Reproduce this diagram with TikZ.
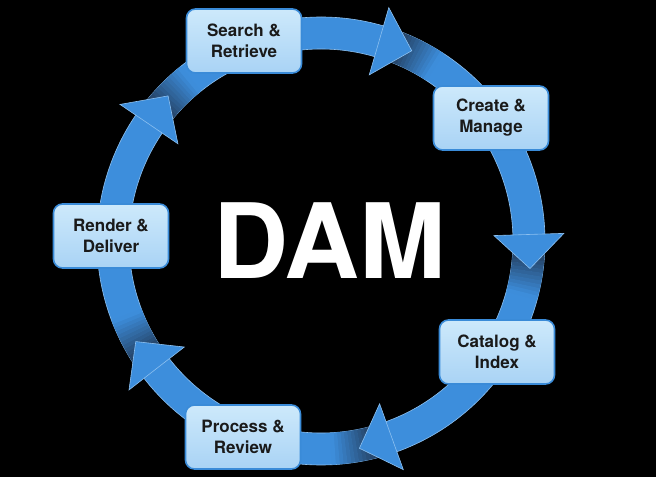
\documentclass[tikz,border=0pt]{standalone}
\usepackage{fontspec}
\setmainfont{TeX Gyre Heros}
\usepackage{xcolor}
\usetikzlibrary{calc}
\definecolor{dblue}{HTML}{3D8EDC}
\definecolor{dedge}{HTML}{8CC0F0}
\definecolor{ddark}{HTML}{1C2638}
\definecolor{dtop}{HTML}{CDE9FB}
\definecolor{dbot}{HTML}{A9D3F5}
\definecolor{dline}{HTML}{3A8BD8}
\definecolor{dtext}{HTML}{1A1A1A}
\tikzset{
  stagebox/.style={draw=dline, line width=1.6pt, top color=dtop, bottom color=dbot,
                   rounded corners=9pt, minimum width=115pt, minimum height=64pt,
                   align=center, text=dtext, inner sep=4pt,
                   font=\fontsize{17}{21}\selectfont\bfseries},
  bigtitle/.style={text=white, font=\fontsize{104}{104}\selectfont\bfseries},
  ringfill/.style={fill=dblue, draw=dedge, line width=0.6pt},
}
% ring piece between two angles (clockwise)
\newcommand{\rout}{224pt}
\newcommand{\rin}{192pt}
\newcommand{\ringpart}[2]{(#1:\rout) arc[start angle=#1, end angle=#2, radius=\rout]
  -- (#2:\rin) arc[start angle=#2, end angle=#1, radius=\rin] -- cycle}

\begin{document}
\begin{tikzpicture}[x=1pt,y=1pt]
  \fill[black] (-321,-236) rectangle (335,241);
  \useasboundingbox (-321,-236) rectangle (335,241);

  % ring bodies, dark at the tail
  \foreach \b in {73.8,1.8,-70.2,-142.2,-214.2}{
    \pgfmathsetmacro{\s}{\b+71}
    \pgfmathsetmacro{\e}{\b-1}
    \path[ringfill] \ringpart{\s}{\e};
    \foreach \j in {0,...,15}{
      \pgfmathsetmacro{\ja}{\s-\j}
      \pgfmathsetmacro{\jb}{\s-\j-1.1}
      \pgfmathsetmacro{\p}{\j*6.6}
      \fill[dblue!\p!ddark] \ringpart{\ja}{\jb};
    }
  }
  % arrow heads
  \foreach \b in {73.8,1.8,-70.2,-142.2,-214.2}{
    \pgfmathsetmacro{\t}{\b-9.3}
    \path[ringfill] (\b:173pt) -- (\t:210.8pt) -- (\b:243pt) -- cycle;
  }

  \node[stagebox] (search)  at (-77,200)  {Search \&\\Retrieve};
  \node[stagebox] (create)  at (170,123)  {Create \&\\Manage};
  \node[stagebox] (catalog) at (176,-111) {Catalog \&\\Index};
  \node[stagebox] (process) at (-78,-196) {Process \&\\Review};
  \node[stagebox] (render)  at (-210,5)   {Render \&\\Deliver};
  \node[bigtitle] (dam) at (9,0) {DAM};
\end{tikzpicture}
\end{document}
